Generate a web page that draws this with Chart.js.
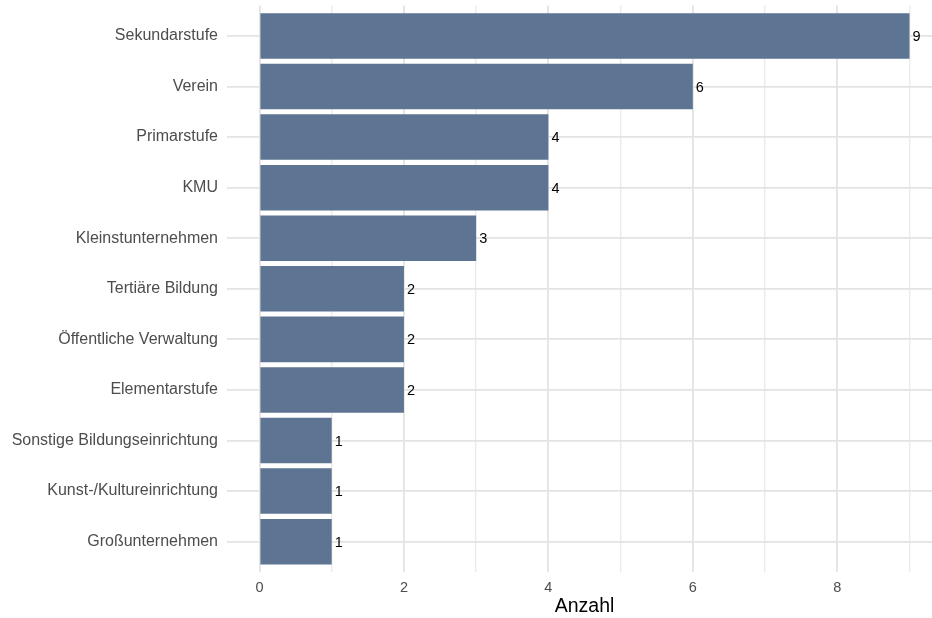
<!DOCTYPE html>
<html>
<head>
<meta charset="utf-8">
<script src="https://cdn.jsdelivr.net/npm/chart.js@4/dist/chart.umd.min.js"></script>
<style>
	html, body { margin: 0; padding: 0; background: #fff; overflow: hidden; }
	#wrap { width: 942px; height: 618px; position: relative; }
</style>
</head>
<body>
<div id="wrap"><canvas id="chart"></canvas></div>
<script>
// categories, top to bottom
const kategorien = [
	'Sekundarstufe',
	'Verein',
	'Primarstufe',
	'KMU',
	'Kleinstunternehmen',
	'Tertiäre Bildung',
	'Öffentliche Verwaltung',
	'Elementarstufe',
	'Sonstige Bildungseinrichtung',
	'Kunst-/Kultureinrichtung',
	'Großunternehmen'
];
const anzahl = [9, 6, 4, 4, 3, 2, 2, 2, 1, 1, 1];
const xTicks = [0, 1, 2, 3, 4, 5, 6, 7, 8, 9];
const xLabels = [0, 2, 4, 6, 8];

const fontFamily = '"Liberation Sans", Arial, sans-serif';

// value labels at the end of each bar
const barLabels = {
	id: 'barLabels',
	afterDatasetsDraw(chart) {
		const ctx = chart.ctx;
		const meta = chart.getDatasetMeta(0);
		ctx.save();
		ctx.font = '14.5px ' + fontFamily;
		ctx.fillStyle = '#000';
		ctx.textAlign = 'left';
		ctx.textBaseline = 'middle';
		meta.data.forEach((bar, i) => {
			ctx.fillText(String(anzahl[i]), bar.x + 3, bar.y + 1);
		});
		ctx.restore();
	}
};

new Chart(document.getElementById('chart'), {
	type: 'bar',
	data: {
		labels: kategorien,
		datasets: [{
			data: anzahl,
			backgroundColor: '#5D7592',
			borderWidth: 0,
			barPercentage: 0.9,
			categoryPercentage: 1
		}]
	},
	options: {
		indexAxis: 'y',
		responsive: true,
		maintainAspectRatio: false,
		animation: false,
		layout: { padding: { top: 5.6, right: 0, bottom: 0, left: 0 } },
		plugins: {
			legend: { display: false },
			tooltip: { enabled: false }
		},
		scales: {
			x: {
				type: 'linear',
				min: -0.45,
				max: 9.45,
				border: { display: false },
				afterBuildTicks: (scale) => {
					scale.ticks = xTicks.map(v => ({ value: v }));
				},
				afterFit: (scale) => {
					scale.height = 46;
					scale.paddingLeft = 0;
					scale.paddingRight = 0;
				},
				grid: {
					drawTicks: false,
					color: (c) => (c.tick && c.tick.value % 2 === 0) ? '#E3E3E3' : '#EBEBEB',
					lineWidth: (c) => (c.tick && c.tick.value % 2 === 0) ? 1.8 : 1.4
				},
				ticks: {
					padding: 7,
					color: '#4D4D4D',
					font: { family: fontFamily, size: 14.5 },
					callback: (v) => xLabels.includes(v) ? String(v) : ''
				},
				title: {
					display: true,
					text: 'Anzahl',
					color: '#000',
					font: { family: fontFamily, size: 19.5 },
					padding: { top: 1, bottom: 0 }
				}
			},
			y: {
				border: { display: false },
				// ggplot style: 0.6 of a band as padding above and below
				afterBuildTicks: (scale) => {
					scale._startValue = -0.6;
					scale._valueRange = kategorien.length + 0.2;
				},
				afterFit: (scale) => {
					scale.width = 227;
					scale.paddingTop = 0;
					scale.paddingBottom = 0;
				},
				grid: {
					offset: false,
					drawTicks: false,
					color: '#E3E3E3',
					lineWidth: 1.8
				},
				ticks: {
					padding: 9,
					color: '#4D4D4D',
					font: { family: fontFamily, size: 16 }
				}
			}
		}
	},
	plugins: [barLabels]
});
</script>
</body>
</html>
